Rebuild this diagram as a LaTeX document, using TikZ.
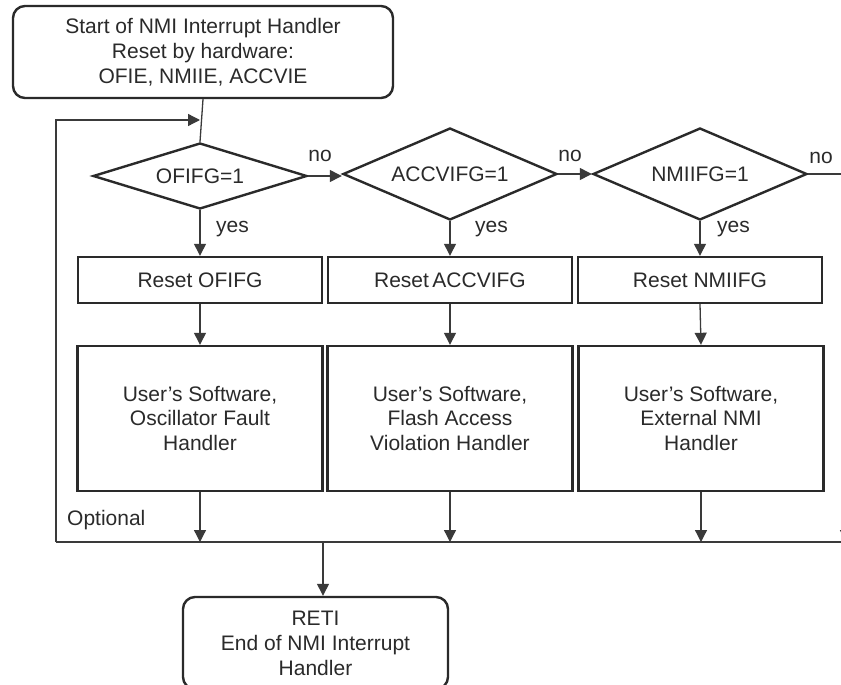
\documentclass[tikz,border=0pt]{standalone}
\usepackage{fontspec}
\setmainfont{Liberation Sans}
\usetikzlibrary{shapes.geometric,arrows.meta}
\definecolor{ink}{HTML}{2A2A2A}
\definecolor{wire}{HTML}{3A3A3A}
\begin{document}
\begin{tikzpicture}[x=1pt,y=-1pt,
  font=\fontsize{21}{25}\selectfont, text=ink,
  box/.style={draw=ink, line width=2.4pt, inner sep=0pt, align=center, fill=white},
  rbox/.style={box, rounded corners=12pt},
  dia/.style={draw=ink, line width=2.4pt, diamond, inner sep=0pt, shape aspect=2.5, fill=white},
  conn/.style={draw=wire, line width=1.3pt},
  arr/.style={conn, -{Triangle[length=12pt,width=12pt]}},
  lbl/.style={inner sep=0pt}]
\useasboundingbox (0,0) rectangle (841,685);
\clip (0,0) rectangle (841,685);

% nodes
\node[rbox, minimum width=380pt, minimum height=92pt] (start) at (203,52)
  {Start of NMI Interrupt Handler\\Reset by hardware:\\OFIE, NMIIE, ACCVIE};

\node[dia, minimum width=214pt, minimum height=66pt] (d1) at (200,176) {OFIFG=1};
\node[dia, minimum width=214pt, minimum height=92pt] (d2) at (450,174) {ACCVIFG=1};
\node[dia, minimum width=214pt, minimum height=92pt] (d3) at (700,174) {NMIIFG=1};

\node[box, minimum width=244pt, minimum height=46pt] (r1) at (200,280) {Reset OFIFG};
\node[box, minimum width=244pt, minimum height=46pt] (r2) at (450,280) {Reset\,ACCVIFG};
\node[box, minimum width=244pt, minimum height=46pt] (r3) at (700,280) {Reset NMIIFG};

\node[box, minimum width=245pt, minimum height=145pt] (u1) at (200,418.5)
  {User's Software,\\Oscillator Fault\\Handler};
\node[box, minimum width=245pt, minimum height=145pt] (u2) at (450,418.5)
  {User's Software,\\Flash Access\\Violation Handler};
\node[box, minimum width=245pt, minimum height=145pt] (u3) at (701,418.5)
  {User's Software,\\External NMI\\Handler};

\node[rbox, minimum width=265pt, minimum height=92pt] (reti) at (315.5,643)
  {RETI\\End of NMI Interrupt\\Handler};

% coordinates
\coordinate (lb) at (56,542);
\coordinate (lt) at (56,120);
\coordinate (jn) at (200,120);
\coordinate (rb) at (845,542);
\coordinate (mg) at (323,542);
\coordinate (noend) at (845,174);
\coordinate (r4top) at (846,500);

% connectors
\draw[conn] (start.south) -- (d1.north);
\draw[arr] (lb) -- (lt) -- (jn);
\draw[arr] (d1.east) -- (d2.west |- d1.east);
\draw[arr] (d2.east) -- (d3.west);
\draw[conn] (d3.east) -- (noend);

\draw[arr] (d1.south) -- (r1.north);
\draw[arr] (d2.south) -- (r2.north);
\draw[arr] (d3.south) -- (r3.north);

\draw[arr] (r1.south) -- (u1.north);
\draw[arr] (r2.south) -- (u2.north);
\draw[arr] (r3.south) -- (u3.north);

\draw[arr] (u1.south) -- (u1.south |- lb);
\draw[arr] (u2.south) -- (u2.south |- lb);
\draw[arr] (u3.south) -- (u3.south |- lb);
\draw[arr] (r4top) -- (r4top |- lb);
\draw[conn] (lb) -- (rb);
\draw[arr] (mg) -- (reti.north -| mg);

% labels
\node[lbl] (no1) at (320,156) {no};
\node[lbl] (no2) at (570,156) {no};
\node[lbl] (no3) at (821,158) {no};
\node[lbl, anchor=west] (y1) at (216,229) {yes};
\node[lbl, anchor=west] (y2) at (475,229) {yes};
\node[lbl, anchor=west] (y3) at (717,229) {yes};
\node[lbl, anchor=west] (opt) at (67,520) {Optional};
\end{tikzpicture}
\end{document}
